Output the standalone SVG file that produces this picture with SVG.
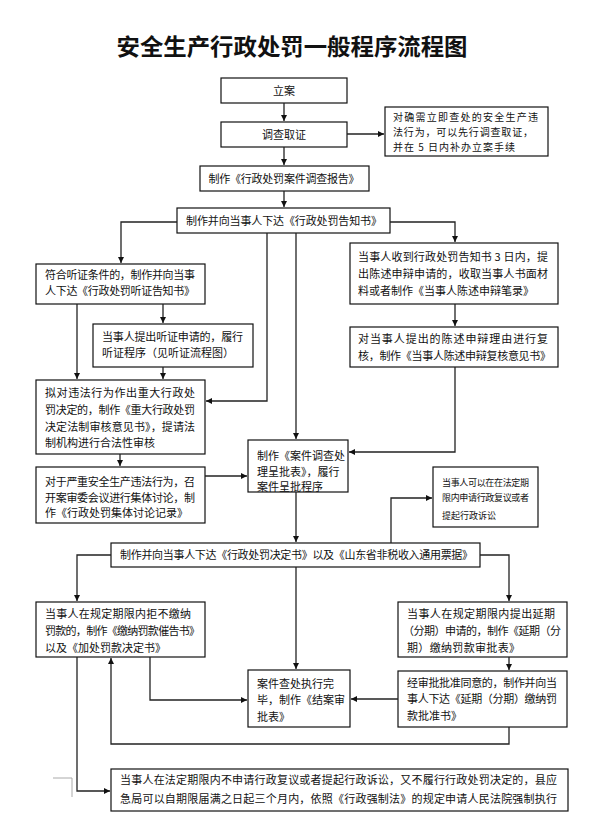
<svg xmlns="http://www.w3.org/2000/svg" width="594" height="827" viewBox="0 0 594 827">
<style>
.bg{fill:#fff}
.box{fill:#fff;stroke:#111;stroke-width:1.2}
.t{font-family:"Noto Sans CJK SC","Liberation Sans",sans-serif;font-size:11px;fill:#111}
.s{font-size:10px}
.xs{font-size:9px}
.c{text-anchor:middle}
.title{font-family:"Noto Sans CJK SC",sans-serif;font-size:23px;font-weight:bold;fill:#111;text-anchor:middle}
.ln{fill:none;stroke:#222;stroke-width:1.3;marker-end:url(#ah)}
</style>
<defs>
<marker id="ah" markerUnits="userSpaceOnUse" markerWidth="7" markerHeight="7" refX="6" refY="3" orient="auto">
<path d="M0,0 L6,3 L0,6 z" fill="#111"/>
</marker>
</defs>
<rect class="bg" x="0" y="0" width="594" height="827"/>
<text class="title" x="292" y="55" textLength="351" lengthAdjust="spacingAndGlyphs">安全生产行政处罚一般程序流程图</text>

<g id="n1"><rect class="box" x="221" y="78" width="126" height="25"/><text class="t c" x="284" y="95">立案</text></g>
<g id="n2"><rect class="box" x="221" y="122" width="126" height="25"/><text class="t c" x="284" y="139">调查取证</text></g>
<g id="n3"><rect class="box" x="385" y="107" width="163" height="49"/>
<text class="t s" x="393" y="121" textLength="145">对确需立即查处的安全生产违</text>
<text class="t s" x="393" y="136" textLength="140">法行为，可以先行调查取证，</text>
<text class="t s" x="393" y="151" textLength="122">并在 5 日内补办立案手续</text></g>
<g id="n4"><rect class="box" x="200" y="166" width="169" height="25"/><text class="t c" x="284" y="183" textLength="151">制作《行政处罚案件调查报告》</text></g>
<g id="n5"><rect class="box" x="177" y="208" width="213" height="25"/><text class="t" x="186" y="225" textLength="196">制作并向当事人下达《行政处罚告知书》</text></g>
<g id="n6"><rect class="box" x="36" y="264" width="169" height="40"/>
<text class="t" x="45" y="279" textLength="150">符合听证条件的，制作并向当事</text>
<text class="t" x="45" y="295" textLength="150">人下达《行政处罚听证告知书》</text></g>
<g id="n7"><rect class="box" x="350" y="243" width="208" height="61"/>
<text class="t" x="358" y="261" textLength="190">当事人收到行政处罚告知书 3 日内，提</text>
<text class="t" x="358" y="278" textLength="190">出陈述申辩申请的，收取当事人书面材</text>
<text class="t" x="358" y="295" textLength="176">料或者制作《当事人陈述申辩笔录》</text></g>
<g id="n8"><rect class="box" x="93" y="324" width="160" height="43"/>
<text class="t" x="102" y="341" textLength="141">当事人提出听证申请的，履行</text>
<text class="t" x="102" y="357" textLength="132">听证程序（见听证流程图）</text></g>
<g id="n9"><rect class="box" x="350" y="327" width="208" height="40"/>
<text class="t" x="358" y="343" textLength="190">对当事人提出的陈述申辩理由进行复</text>
<text class="t" x="358" y="360" textLength="193">核，制作《当事人陈述申辩复核意见书》</text></g>
<g id="n10"><rect class="box" x="36" y="380" width="169" height="74"/>
<text class="t" x="45" y="397" textLength="150">拟对违法行为作出重大行政处</text>
<text class="t" x="45" y="414" textLength="150">罚决定的，制作《重大行政处罚</text>
<text class="t" x="45" y="431" textLength="150">决定法制审核意见书》，提请法</text>
<text class="t" x="45" y="447">制机构进行合法性审核</text></g>
<g id="n11"><rect class="box" x="248" y="440" width="100" height="52"/>
<text class="t" x="257" y="460">制作《案件调查处</text>
<text class="t" x="257" y="476">理呈批表》，履行</text>
<text class="t" x="257" y="491">案件呈批程序</text></g>
<g id="n12"><rect class="box" x="36" y="467" width="169" height="56"/>
<text class="t" x="45" y="486" textLength="150">对于严重安全生产违法行为，召</text>
<text class="t" x="45" y="502" textLength="150">开案审委会议进行集体讨论，制</text>
<text class="t" x="45" y="517" textLength="143">作《行政处罚集体讨论记录》</text></g>
<g id="n13"><rect class="box" x="433" y="467" width="105" height="60"/>
<text class="t xs" x="442" y="486" textLength="87">当事人可以在在法定期</text>
<text class="t xs" x="442" y="501" textLength="87">限内申请行政复议或者</text>
<text class="t xs" x="442" y="519">提起行政诉讼</text></g>
<g id="n14"><rect class="box" x="111" y="543" width="369" height="24"/>
<text class="t" x="120" y="559" textLength="353">制作并向当事人下达《行政处罚决定书》以及《山东省非税收入通用票据》</text></g>
<g id="n15"><rect class="box" x="36" y="602" width="169" height="55"/>
<text class="t" x="45" y="618" textLength="146">当事人在规定期限内拒不缴纳</text>
<text class="t" x="45" y="635" textLength="155">罚款的，制作《缴纳罚款催告书》</text>
<text class="t" x="45" y="652" textLength="121">以及《加处罚款决定书》</text></g>
<g id="n16"><rect class="box" x="398" y="602" width="169" height="55"/>
<text class="t" x="407" y="618" textLength="148">当事人在规定期限内提出延期</text>
<text class="t" x="403" y="635" textLength="158">（分期）申请的，制作《延期（分</text>
<text class="t" x="407" y="652" textLength="113">期）缴纳罚款审批表》</text></g>
<g id="n17"><rect class="box" x="248" y="670" width="102" height="57"/>
<text class="t" x="257" y="688">案件查处执行完</text>
<text class="t" x="257" y="704">毕，制作《结案审</text>
<text class="t" x="257" y="721">批表》</text></g>
<g id="n18"><rect class="box" x="398" y="671" width="169" height="56"/>
<text class="t" x="407" y="687" textLength="150">经审批批准同意的，制作并向当</text>
<text class="t" x="407" y="703" textLength="150">事人下达《延期（分期）缴纳罚</text>
<text class="t" x="407" y="720">款批准书》</text></g>
<g id="n19"><rect class="box" x="111" y="769" width="457" height="42"/>
<text class="t" x="120" y="784" textLength="437">当事人在法定期限内不申请行政复议或者提起行政诉讼，又不履行行政处罚决定的，县应</text>
<text class="t" x="120" y="803" textLength="437">急局可以自期限届满之日起三个月内，依照《行政强制法》的规定申请人民法院强制执行</text></g>

<g id="connectors">
<path class="ln" d="M284,103 V121"/>
<path class="ln" d="M347,134 H384"/>
<path class="ln" d="M284,147 V165"/>
<path class="ln" d="M284,191 V207"/>
<path class="ln" d="M177,222 H121 V263"/>
<path class="ln" d="M390,222 H455 V242"/>
<path class="ln" d="M455,304 V326"/>
<path class="ln" d="M455,367 V452 H349"/>
<path class="ln" d="M267,233 V401 H206"/>
<path class="ln" d="M296,233 V439"/>
<path class="ln" d="M163,304 V323"/>
<path class="ln" d="M77,304 V379"/>
<path class="ln" d="M163,367 V379"/>
<path class="ln" d="M120,454 V466"/>
<path class="ln" d="M205,476 H247"/>
<path class="ln" d="M296,492 V542"/>
<path class="ln" d="M391,543 V498 H432"/>
<path class="ln" d="M111,555 H77 V601"/>
<path class="ln" d="M480,555 H509 V601"/>
<path class="ln" d="M509,657 V670"/>
<path class="ln" d="M398,699 H351"/>
<path class="ln" d="M296,567 V669"/>
<path class="ln" d="M150,657 V700 H247"/>
<path class="ln" d="M509,727 V744 H111 V658"/>
<path class="ln" d="M77,657 V791 H110"/>
</g>
<path d="M53,778 H72 V797" fill="none" stroke="#aaa" stroke-width="1"/>
</svg>
